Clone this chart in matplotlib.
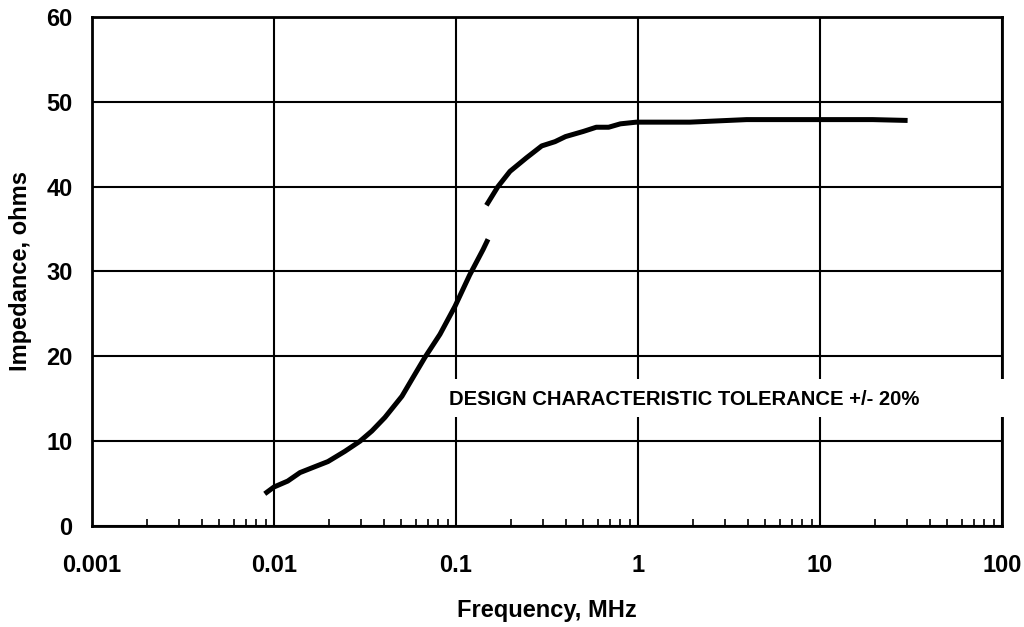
import matplotlib.pyplot as plt
from matplotlib.patches import Rectangle
from matplotlib.ticker import FixedLocator, LogLocator, NullFormatter

plt.rcParams['font.family'] = ['Liberation Sans', 'DejaVu Sans']
plt.rcParams['font.weight'] = 'bold'

# curve, split where the original line has a gap
freq_low = [0.0089, 0.010, 0.0119, 0.0139, 0.0168, 0.0198, 0.0245, 0.0297, 0.0345,
            0.0407, 0.0505, 0.0573, 0.0676, 0.0817, 0.0988, 0.119, 0.141, 0.150]
imp_low = [3.8, 4.6, 5.3, 6.3, 7.0, 7.6, 8.8, 10.0, 11.2,
           12.8, 15.3, 17.3, 19.9, 22.6, 25.9, 29.6, 32.6, 33.8]
freq_high = [0.147, 0.170, 0.198, 0.244, 0.296, 0.35, 0.40, 0.50, 0.59, 0.69,
             0.80, 0.98, 1.93, 3.95, 6.8, 19.5, 30.3]
imp_high = [37.8, 40.0, 41.8, 43.4, 44.8, 45.3, 45.9, 46.5, 47.0, 47.0,
            47.4, 47.6, 47.6, 47.9, 47.9, 47.9, 47.8]

x_ticks = [0.001, 0.01, 0.1, 1, 10, 100]
x_labels = ['0.001', '0.01', '0.1', '1', '10', '100']
y_ticks = [0, 10, 20, 30, 40, 50, 60]
note = 'DESIGN CHARACTERISTIC TOLERANCE +/- 20%'

fig = plt.figure(figsize=(10.24, 6.27), dpi=100)
ax = fig.add_axes([0.0898, 0.161, 0.8887, 0.812])

ax.set_xscale('log')
ax.set_xlim(0.001, 100)
ax.set_ylim(0, 60)

ax.xaxis.set_major_locator(FixedLocator(x_ticks))
ax.set_xticks(x_ticks)
ax.set_xticklabels(x_labels)
ax.xaxis.set_minor_locator(LogLocator(base=10, subs=range(2, 10), numticks=20))
ax.xaxis.set_minor_formatter(NullFormatter())
ax.set_yticks(y_ticks)

ax.grid(True, which='major', color='black', linewidth=1.5)
ax.tick_params(which='major', length=0, labelsize=17)
ax.tick_params(axis='y', which='major', pad=14)
ax.tick_params(axis='x', which='major', pad=20)
ax.tick_params(axis='x', which='minor', direction='in', length=5, width=1.2, color='black')
ax.tick_params(axis='y', which='minor', length=0)
for s in ax.spines.values():
    s.set_linewidth(2)

ax.plot(freq_low, imp_low, color='black', linewidth=3.6, solid_capstyle='butt', zorder=5)
ax.plot(freq_high, imp_high, color='black', linewidth=3.6, solid_capstyle='butt', zorder=5)

# white band behind the note covers grid lines and the right spine
ax.add_patch(Rectangle((0.087, 12.8), 110 - 0.087, 17.3 - 12.8, facecolor='white',
                       edgecolor='none', zorder=4, clip_on=False))
ax.text(0.0916, 14.9, note, ha='left', va='center', fontsize=14.6,
        fontweight='bold', zorder=6)

ax.set_xlabel('Frequency, MHz', fontsize=17, fontweight='bold', labelpad=16)
ax.set_ylabel('Impedance, ohms', fontsize=17, fontweight='bold', labelpad=10)

fig.savefig('out.png', dpi=100)
